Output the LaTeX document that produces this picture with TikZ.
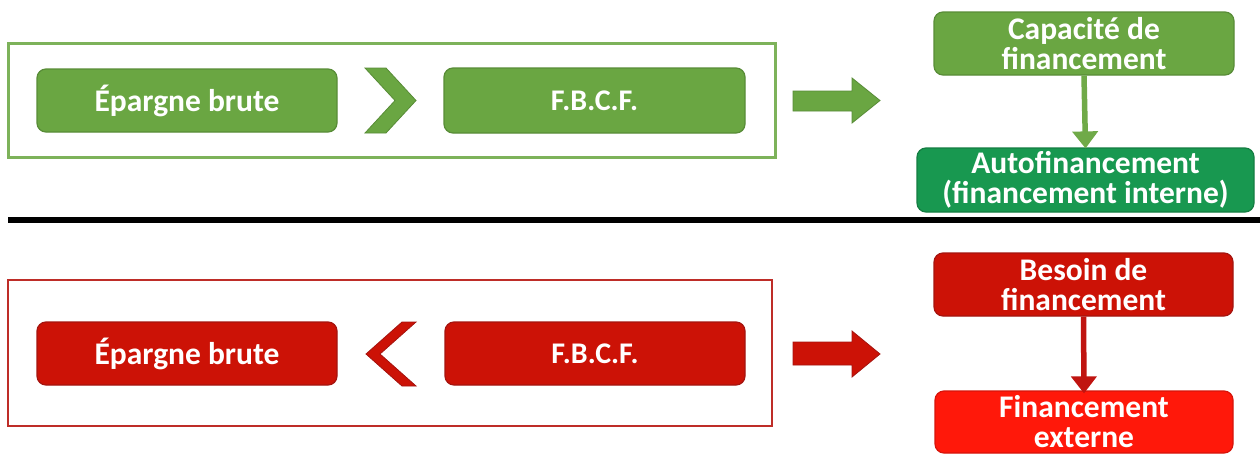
\documentclass[tikz,border=0pt]{standalone}
\usepackage{fontspec}
\setmainfont{Carlito}
\usetikzlibrary{arrows.meta}
\definecolor{gbox}{RGB}{106,166,66}
\definecolor{gboxd}{RGB}{88,140,55}
\definecolor{gouter}{RGB}{125,178,90}
\definecolor{gauto}{RGB}{24,152,80}
\definecolor{gautod}{RGB}{20,125,66}
\definecolor{rbox}{RGB}{204,18,6}
\definecolor{rboxd}{RGB}{165,20,15}
\definecolor{router}{RGB}{190,45,40}
\definecolor{rext}{RGB}{255,24,10}
\definecolor{rextd}{RGB}{215,20,10}
\definecolor{garr}{RGB}{112,170,72}
\definecolor{rarr}{RGB}{192,20,16}
\tikzset{
  txt/.style={text=white,font=\bfseries\fontsize{31.5}{30}\selectfont,align=center,inner sep=0pt},
  gbtn/.style={txt,fill=gbox,draw=gboxd,line width=1.2pt,rounded corners=9pt},
  rbtn/.style={txt,fill=rbox,draw=rboxd,line width=1.2pt,rounded corners=9pt},
  fbcf/.style={font=\bfseries\fontsize{30}{30}\selectfont},
  vconn/.style={line width=5.5pt,-{Triangle[width=25pt,length=17pt]}},
}
\begin{document}
\begin{tikzpicture}[x=1pt,y=-1pt]
\useasboundingbox (0,0) rectangle (1260,455);
\fill[white] (0,0) rectangle (1260,455);
% outer frames
\node[draw=gouter,line width=3pt,minimum width=767pt,minimum height=114pt,inner sep=0pt] (gframe) at (391.5,100) {};
\node[draw=router,line width=2.5pt,minimum width=764pt,minimum height=146pt,inner sep=0pt] (rframe) at (390,353) {};
% green row
\node[gbtn,minimum width=300pt,minimum height=63pt] (gEp) at (187,100.5) {Épargne brute};
\node[gbtn,fbcf,minimum width=301pt,minimum height=65pt] (gF) at (594.5,100.5) {F.B.C.F.};
\fill[gbox,draw=gboxd,line width=0.8pt] (365,68) -- (386,68) -- (416,100.5) -- (386,133) -- (365,133) -- (395,100.5) -- cycle;
\fill[gbox,draw=gboxd,line width=0.8pt] (793,91) -- (852,91) -- (852,78) -- (880,100.5) -- (852,123) -- (852,111) -- (793,111) -- cycle;
\node[gbtn,minimum width=300pt,minimum height=63pt] (gCap) at (1084,43.5) {Capacité de\\financement};
\node[txt,fill=gauto,draw=gautod,line width=1.2pt,rounded corners=9pt,minimum width=337pt,minimum height=64pt] (gAuto) at (1085.5,180) {Autofinancement\\(financement interne)};
\draw[vconn,draw=garr,fill=garr] (gCap.south) -- ([yshift=-1pt]gAuto.north);
% separator
\coordinate (sepL) at (8,220);
\coordinate (sepR) at (1260,220);
\draw[line width=6pt,black] (sepL) -- (sepR);
% red row
\node[rbtn,minimum width=300pt,minimum height=63pt] (rEp) at (187,353.5) {Épargne brute};
\node[rbtn,fbcf,minimum width=300pt,minimum height=63pt] (rF) at (595,353.5) {F.B.C.F.};
\fill[rbox,draw=rboxd,line width=0.8pt] (416,322) -- (402,322) -- (366,354) -- (402,386) -- (416,386) -- (380,354) -- cycle;
\fill[rbox,draw=rboxd,line width=0.8pt] (793,342) -- (852,342) -- (852,331) -- (880,354) -- (852,377) -- (852,365) -- (793,365) -- cycle;
\node[rbtn,minimum width=299pt,minimum height=63pt] (rBes) at (1083.5,284.5) {Besoin de\\financement};
\node[txt,fill=rext,draw=rextd,line width=1.2pt,rounded corners=9pt,minimum width=298pt,minimum height=62pt] (rExt) at (1084,422) {Financement\\externe};
\draw[vconn,draw=rarr,fill=rarr] (rBes.south) -- ([yshift=-3pt]rExt.north);
\end{tikzpicture}
\end{document}
